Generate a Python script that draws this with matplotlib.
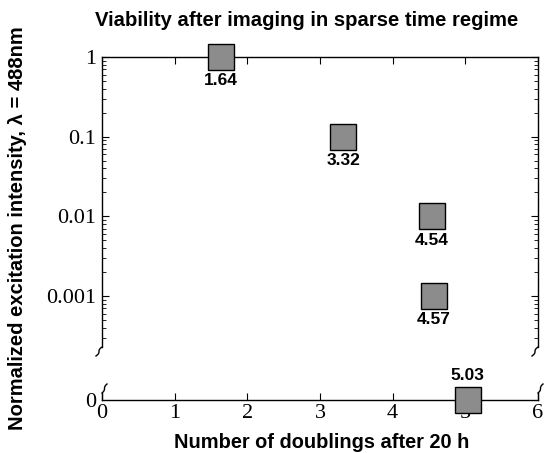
import numpy as np
import matplotlib
matplotlib.use('Agg')
import matplotlib.pyplot as plt
from matplotlib.ticker import FixedLocator, LogLocator, NullFormatter

# data
doublings = [1.64, 3.32, 4.54, 4.57]
intensity = [1, 0.1, 0.01, 0.001]
zero_doublings = [5.03]
zero_intensity = [0]
ytick_vals = [1, 0.1, 0.01, 0.001]
ytick_labels = ['1', '0.1', '0.01', '0.001']
xtick_vals = [0, 1, 2, 3, 4, 5, 6]

W, H = 546, 453
fig = plt.figure(figsize=(W / 100, H / 100), dpi=100)

serif = ['Liberation Serif', 'DejaVu Serif']
sans = ['Liberation Sans', 'DejaVu Sans']

left, right = 102, 538
top_up, bot_up = 57, 347
top_lo, bot_lo = 393, 400

ax = fig.add_axes([left / W, 1 - bot_up / H, (right - left) / W, (bot_up - top_up) / H])
axl = fig.add_axes([left / W, 1 - bot_lo / H, (right - left) / W, (bot_lo - top_lo) / H])

mk = dict(marker='s', linestyle='none', markersize=19, markerfacecolor='#8c8c8c',
          markeredgecolor='black', markeredgewidth=1.0, clip_on=False, zorder=5)

ax.plot(doublings, intensity, **mk)
axl.plot(zero_doublings, zero_intensity, **mk)

ax.set_yscale('log')
ax.set_ylim(2.3e-4, 1)
ax.set_xlim(0, 6)
axl.set_xlim(0, 6)
axl.set_ylim(0, 1)

ax.spines['bottom'].set_visible(False)
axl.spines['top'].set_visible(False)
for a in (ax, axl):
    for s in a.spines.values():
        s.set_linewidth(1.0)

ax.yaxis.set_major_locator(FixedLocator(ytick_vals))
ax.set_yticklabels(ytick_labels, fontfamily=serif, fontsize=16)
ax.yaxis.set_minor_locator(LogLocator(base=10, subs=np.arange(2, 10), numticks=20))
ax.yaxis.set_minor_formatter(NullFormatter())
ax.tick_params(axis='y', which='both', direction='in', left=True, right=True, pad=4)
ax.tick_params(axis='y', which='major', length=5)
ax.tick_params(axis='y', which='minor', length=3)
ax.set_xticks(xtick_vals)
ax.tick_params(axis='x', direction='in', top=True, bottom=False, labelbottom=False, length=5)

axl.set_yticks([0])
axl.set_yticklabels(['0'], fontfamily=serif, fontsize=16)
axl.tick_params(axis='y', direction='in', left=True, right=True, length=0, pad=4)
axl.set_xticks(xtick_vals)
axl.set_xticklabels([str(v) for v in xtick_vals], fontfamily=serif, fontsize=16)
axl.tick_params(axis='x', direction='in', length=5, pad=3, top=False)

# value labels under / over the markers
for x, y in zip(doublings, intensity):
    ax.annotate(f'{x:.2f}', (x, y), xytext=(0, -17), textcoords='offset points',
                ha='center', va='center', fontsize=12.5, fontweight='bold', fontfamily=sans)
for x, y in zip(zero_doublings, zero_intensity):
    axl.annotate(f'{x:.2f}', (x, y), xytext=(0, 18), textcoords='offset points',
                 ha='center', va='center', fontsize=12.5, fontweight='bold', fontfamily=sans)

# axis break marks
t = np.linspace(0, 1, 20)
bx = t + 0.15 * np.sin(2 * np.pi * t)
wu, hu = right - left, bot_up - top_up
hl = bot_lo - top_lo
for xa in (0, 1):
    ax.plot(xa - 6 * bx / wu, -9 * t / hu, color='black', lw=1.0,
            transform=ax.transAxes, clip_on=False)
    axl.plot(xa + 5 * bx / wu, 1 + 9 * t / hl, color='black', lw=1.0,
             transform=axl.transAxes, clip_on=False)

fig.text(307 / W, 1 - 20 / H, 'Viability after imaging in sparse time regime',
         ha='center', va='center', fontsize=14.6, fontweight='bold', fontfamily=sans)
fig.text(322 / W, 1 - 442 / H, 'Number of doublings after 20 h',
         ha='center', va='center', fontsize=14.4, fontweight='bold', fontfamily=sans)
fig.text(18 / W, 1 - 228 / H, 'Normalized excitation intensity, λ = 488nm',
         ha='center', va='center', rotation=90, fontsize=14.5, fontweight='bold', fontfamily=sans)

fig.savefig('out.png', dpi=100)
